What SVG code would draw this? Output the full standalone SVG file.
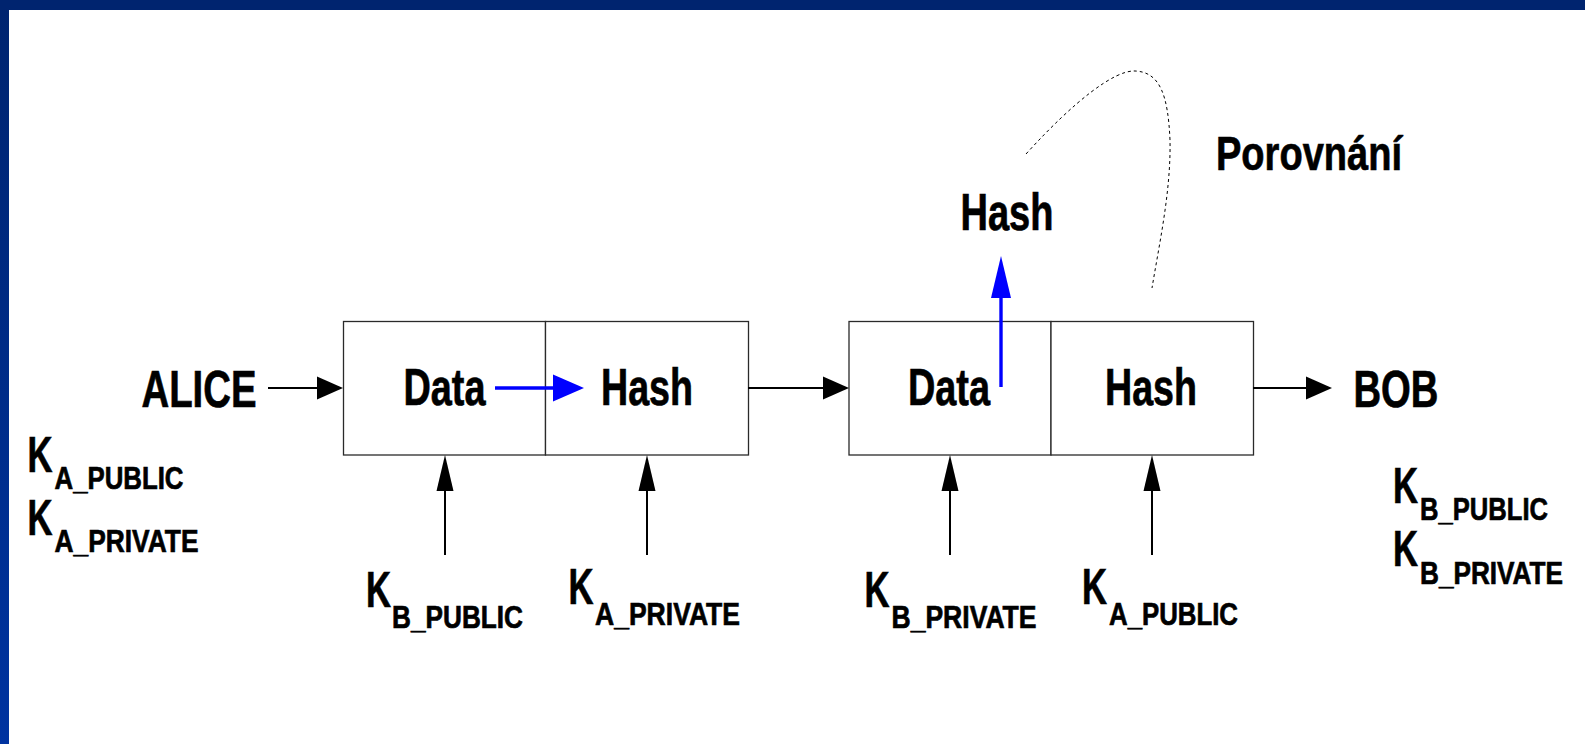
<svg xmlns="http://www.w3.org/2000/svg" width="1585" height="744" viewBox="0 0 1585 744">
  <defs>
    <linearGradient id="sideBar" x1="0" y1="0" x2="0" y2="1">
      <stop offset="0" stop-color="#00246f"/>
      <stop offset="1" stop-color="#0033a0"/>
    </linearGradient>
    <!-- arrowheads: line ends at the head base, head extends beyond -->
    <marker id="headH" markerUnits="userSpaceOnUse" markerWidth="27" markerHeight="24" refX="0" refY="11.5" orient="auto" overflow="visible">
      <path d="M0,0 L26,11.5 L0,23 Z" fill="#000"/>
    </marker>
    <marker id="headV" markerUnits="userSpaceOnUse" markerWidth="37" markerHeight="18" refX="0" refY="8.5" orient="auto" overflow="visible">
      <path d="M0,0 L36,8.5 L0,17 Z" fill="#000"/>
    </marker>
    <marker id="blueH" markerUnits="userSpaceOnUse" markerWidth="32" markerHeight="28" refX="0" refY="13.5" orient="auto" overflow="visible">
      <path d="M0,0 L31,13.5 L0,27 Z" fill="#0000ff"/>
    </marker>
    <marker id="blueV" markerUnits="userSpaceOnUse" markerWidth="43" markerHeight="21" refX="0" refY="10" orient="auto" overflow="visible">
      <path d="M0,0 L42,10 L0,20 Z" fill="#0000ff"/>
    </marker>
  </defs>
  <style>
    text { font-family: "Liberation Sans", Arial, sans-serif; font-weight: bold; fill: #000; stroke: #000; stroke-width: 0.7; }
    .big { font-size: 52px; }
    .mid { font-size: 50px; }
    .sub { font-size: 32px; }
    .cell { fill: #fff; stroke: #2a2a2a; stroke-width: 1.3; }
    .wire { stroke: #000; stroke-width: 2; fill: none; }
    .wireH { marker-end: url(#headH); }
    .wireV { marker-end: url(#headV); }
    .blue { stroke: #0000ff; stroke-width: 3.4; fill: none; }
    .compare { stroke: #000; stroke-width: 1; fill: none; stroke-dasharray: 3 3; }
  </style>

  <!-- page frame -->
  <rect x="0" y="0" width="1585" height="744" fill="#fff"/>
  <rect x="0" y="0" width="9" height="744" fill="url(#sideBar)"/>
  <rect x="0" y="0" width="1585" height="10" fill="#00246f"/>

  <!-- sender -->
  <g id="alice">
    <text class="big" x="141.5" y="407" textLength="115" lengthAdjust="spacingAndGlyphs">ALICE</text>
  </g>
  <g id="alice-keys">
    <text class="mid" x="27.5" y="472" textLength="25" lengthAdjust="spacingAndGlyphs">K</text>
    <text class="sub" x="54.5" y="489" textLength="129" lengthAdjust="spacingAndGlyphs">A_PUBLIC</text>
    <text class="mid" x="27.5" y="535" textLength="25" lengthAdjust="spacingAndGlyphs">K</text>
    <text class="sub" x="54.5" y="552" textLength="144" lengthAdjust="spacingAndGlyphs">A_PRIVATE</text>
  </g>

  <!-- signed message leaving Alice -->
  <g id="message-out">
    <rect class="cell" x="343.5" y="321.5" width="202" height="133.5"/>
    <rect class="cell" x="545.5" y="321.5" width="203" height="133.5"/>
    <text class="big" x="403.5" y="405" textLength="82" lengthAdjust="spacingAndGlyphs">Data</text>
    <text class="big" x="601" y="405" textLength="92" lengthAdjust="spacingAndGlyphs">Hash</text>
  </g>

  <!-- message arriving at Bob -->
  <g id="message-in">
    <rect class="cell" x="849" y="321.5" width="202" height="133.5"/>
    <rect class="cell" x="1051" y="321.5" width="202.5" height="133.5"/>
    <text class="big" x="908" y="405" textLength="82" lengthAdjust="spacingAndGlyphs">Data</text>
    <text class="big" x="1105" y="405" textLength="92" lengthAdjust="spacingAndGlyphs">Hash</text>
  </g>

  <!-- hash recomputed by Bob -->
  <g id="hash-recomputed">
    <text class="big" x="960.5" y="230" textLength="93" lengthAdjust="spacingAndGlyphs">Hash</text>
  </g>
  <g id="compare-label">
    <text class="big" x="1216" y="169.5" textLength="186" lengthAdjust="spacingAndGlyphs" style="font-size:49px">Porovnání</text>
  </g>

  <!-- receiver -->
  <g id="bob">
    <text class="big" x="1353.5" y="407" textLength="85" lengthAdjust="spacingAndGlyphs">BOB</text>
  </g>
  <g id="bob-keys">
    <text class="mid" x="1393" y="503" textLength="25" lengthAdjust="spacingAndGlyphs">K</text>
    <text class="sub" x="1420" y="520" textLength="128" lengthAdjust="spacingAndGlyphs">B_PUBLIC</text>
    <text class="mid" x="1393" y="566" textLength="25" lengthAdjust="spacingAndGlyphs">K</text>
    <text class="sub" x="1420" y="584" textLength="143" lengthAdjust="spacingAndGlyphs">B_PRIVATE</text>
  </g>

  <!-- keys applied to each cell -->
  <g id="key-b-public">
    <text class="mid" x="366" y="606.5" textLength="25" lengthAdjust="spacingAndGlyphs">K</text>
    <text class="sub" x="392" y="628" textLength="131" lengthAdjust="spacingAndGlyphs">B_PUBLIC</text>
  </g>
  <g id="key-a-private">
    <text class="mid" x="568.5" y="603.5" textLength="25" lengthAdjust="spacingAndGlyphs">K</text>
    <text class="sub" x="595" y="625" textLength="145" lengthAdjust="spacingAndGlyphs">A_PRIVATE</text>
  </g>
  <g id="key-b-private">
    <text class="mid" x="864.5" y="606.5" textLength="25" lengthAdjust="spacingAndGlyphs">K</text>
    <text class="sub" x="891.5" y="628" textLength="145" lengthAdjust="spacingAndGlyphs">B_PRIVATE</text>
  </g>
  <g id="key-a-public">
    <text class="mid" x="1082" y="603.5" textLength="25" lengthAdjust="spacingAndGlyphs">K</text>
    <text class="sub" x="1109" y="625" textLength="129" lengthAdjust="spacingAndGlyphs">A_PUBLIC</text>
  </g>

  <!-- connectors, drawn over the cells -->
  <g id="connectors">
    <line class="wire wireH" x1="268" y1="388" x2="317" y2="388"/>
    <line class="wire wireH" x1="748" y1="388" x2="823" y2="388"/>
    <line class="wire wireH" x1="1253" y1="388" x2="1306" y2="388"/>
    <line class="wire wireV" x1="445" y1="555" x2="445" y2="491"/>
    <line class="wire wireV" x1="647" y1="555" x2="647" y2="491"/>
    <line class="wire wireV" x1="950" y1="555" x2="950" y2="491"/>
    <line class="wire wireV" x1="1152" y1="555" x2="1152" y2="491"/>
    <line class="blue" x1="495" y1="388" x2="553" y2="388" marker-end="url(#blueH)"/>
    <line class="blue" x1="1001" y1="387" x2="1001" y2="298" marker-end="url(#blueV)"/>
    <path class="compare" d="M1026,154 C1075,100 1115,70 1135,71 C1160,72 1168,95 1170,140 C1171,190 1160,240 1152,288"/>
  </g>
</svg>
